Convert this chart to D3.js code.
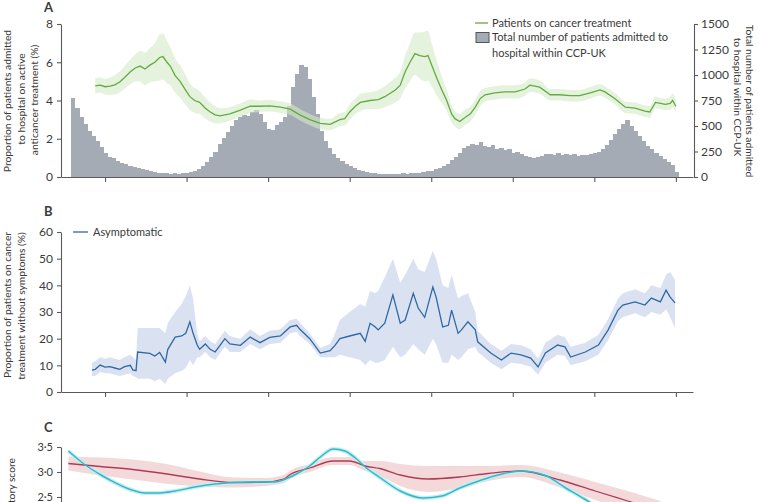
<!DOCTYPE html>
<html><head><meta charset="utf-8">
<script src="https://cdn.jsdelivr.net/npm/d3@7"></script>
<style>body{margin:0;background:#fff} svg{display:block} text{font-family:Lato,"Open Sans",sans-serif;fill:#3a3a3a}</style>
</head><body><svg id="c" width="758" height="502"></svg>
<script>
// ---------- DATA (x in days) ----------
const xTicks = [54,154,254,354,454,554,654,754];
const barStart = 12, barStep = 5;
const admissions = [770,680,590,520,450,400,350,290,240,200,
185,160,140,125,110,95,85,75,68,58,
50,42,38,35,32,36,30,38,40,48,
60,80,110,150,200,250,320,380,440,500,
560,590,610,600,640,660,620,540,470,460,
510,540,590,700,880,1010,1100,1080,960,780,
620,450,350,280,230,190,155,130,105,85,
70,58,48,42,38,32,30,28,25,30,
28,35,32,38,42,40,48,55,60,75,
90,110,130,170,200,240,280,300,320,310,
340,300,290,310,270,280,260,270,240,250,
230,210,200,190,200,210,225,230,220,235,
220,230,215,225,210,220,215,230,240,250,
270,310,360,420,470,520,560,500,450,400,
350,300,270,240,210,180,150,120,50];

const greenDay = [42,48,54,60,66,72,78,85,91,97,103,109,115,121,125,130,134,140,146,152,158,164,170,177,183,189,195,207,220,232,244,256,269,281,293,305,318,330,342,348,354,361,367,379,389,397,410,416,422,428,434,440,446,450,455,461,467,473,479,483,489,495,502,508,514,520,532,544,557,569,575,587,600,612,624,636,649,661,667,679,692,704,716,722,729,735,741,747,750,754];
const greenPct = [4.76,4.8,4.72,4.75,4.82,4.97,5.2,5.5,5.7,5.8,5.65,5.85,6.0,6.25,6.3,6.0,5.8,5.3,5.0,4.6,4.2,4.0,3.9,3.6,3.4,3.25,3.2,3.3,3.5,3.7,3.7,3.72,3.65,3.55,3.25,3.0,2.8,2.75,3.0,3.05,3.4,3.7,3.9,4.0,4.05,4.2,4.55,4.8,5.5,6.0,6.45,6.35,6.3,6.35,5.8,5.15,4.55,4.0,3.3,3.05,2.9,3.1,3.3,3.65,4.1,4.3,4.4,4.45,4.45,4.6,4.8,4.7,4.3,4.3,4.25,4.25,4.4,4.55,4.45,4.1,3.65,3.6,3.45,3.4,3.9,3.85,3.8,3.85,4.0,3.7];
const greenHalf = [0.4,0.4,0.4,0.45,0.5,0.55,0.6,0.65,0.7,0.8,0.85,0.9,1.0,1.2,1.2,1.1,1.0,0.9,0.85,0.8,0.7,0.65,0.6,0.55,0.5,0.45,0.4,0.35,0.35,0.35,0.3,0.3,0.3,0.3,0.3,0.3,0.3,0.3,0.35,0.35,0.4,0.4,0.45,0.45,0.5,0.55,0.65,0.7,0.85,1.0,1.1,1.2,1.3,1.3,1.1,0.9,0.7,0.55,0.45,0.4,0.4,0.4,0.4,0.4,0.4,0.35,0.35,0.35,0.35,0.35,0.35,0.35,0.3,0.3,0.3,0.3,0.3,0.3,0.3,0.3,0.3,0.3,0.3,0.3,0.3,0.3,0.3,0.35,0.35,0.35];

const blueDay = [38,42,48,54,60,66,72,78,85,88,92,94,109,115,121,128,131,140,148,153,158,162,167,170,177,183,189,195,201,207,220,232,244,256,269,281,289,293,305,318,330,336,342,354,367,373,379,385,389,397,407,416,422,432,438,446,456,460,468,475,479,487,491,499,508,511,527,540,552,564,576,585,594,609,618,625,643,659,671,683,689,704,716,724,735,742,747,753];
const blueVal = [8.2,8.5,10.1,9.3,9.5,9.0,8.5,9.5,10.0,8.3,8.0,15.0,14.5,13.5,14.8,11.2,16,20.6,21,22,26.3,22,17.6,16,18,16,15,17.5,20,18,17.5,20.6,18.5,20.5,21,24.4,25,23.5,20,14.6,15.5,17.5,20,21,22,19,25.8,24.5,23.3,25.8,36.4,25.8,27,37,31.5,28,39.4,35.6,24.4,25,30.7,22,23.3,26.3,23.3,18.8,14.6,12,14.6,13.9,12.7,9.4,14.6,17.6,16.9,13.1,15,17.6,23.3,30.7,32.6,33.8,32.6,35.2,33.8,38.2,35.6,33.4];
const blueLo = [6,6,7.5,7,7,6.5,6,6.5,7,6,5.5,5,5,4,5,3,5,7,8,9,12,10,13,13,15,13,12,14.5,17,15,15,18,16,18,18.5,22,22.5,21,18,13,13,13,14,13,12,10,12,11,11,12,17,13,14,18,16,14,20,18,11,11,14,12,13,16,17,15,11,8.5,11,10.5,9.5,6.5,11,14,13.5,10,11.5,14,19.5,26.5,28,29.5,28,30,29,31,28,24];
const blueHi = [11,11.5,13,12.5,13,12.5,12,13,14,13,12,24,24,24,24,22,26,30,33,36,40,35,22,19,21,19,18,20.5,23,21,20,23.5,21,23,23.5,27,27.5,26,22,16.5,18,22,27,30,33,32,38,37,38,43,50,41,44,50,46,45,53,50,40,39,44,35,36,37,30,23,18,15.5,18,17.5,16,12.5,18.5,21.5,20.5,17,18.5,21.5,27.5,35,37,38.5,37,40,39,44,45,42];

const cyanDay = [9,29,48,60,85,103,121,140,164,189,232,262,281,293,305,318,334,348,361,373,391,416,444,467,489,514,538,564,594,618,642,667,692];
const cyanVal = [3.42,3.15,2.95,2.84,2.65,2.58,2.58,2.62,2.70,2.76,2.80,2.80,2.90,3.00,3.12,3.30,3.46,3.42,3.28,3.10,2.89,2.62,2.48,2.52,2.68,2.83,2.95,3.02,2.93,2.69,2.46,2.2,1.95];
const redDay = [9,48,88,126,170,211,250,273,281,305,334,354,373,391,416,450,489,524,564,612,655,695,735];
const redVal = [3.17,3.11,3.05,2.97,2.86,2.79,2.80,2.86,2.95,3.08,3.22,3.22,3.12,3.07,2.94,2.86,2.9,2.97,3.02,2.84,2.62,2.42,2.22];
const redHalf = [0.14,0.18,0.2,0.2,0.15,0.1,0.08,0.08,0.08,0.08,0.08,0.08,0.1,0.15,0.22,0.26,0.22,0.15,0.12,0.15,0.18,0.2,0.2];

const leftTicksA = [0,2,4,6,8];
const rightTicksA = [0,250,500,750,1000,1250,1500];
const ticksB = [0,10,20,30,40,50,60];
const ticksC = [2.5,3.0,3.5];

// ---------- DRAW ----------
const svg = d3.select("#c");
const AX = "#5a5a5a";
const x = d3.scaleLinear().domain([0,775]).range([61,693]);

function styleAxis(g, fs){
  g.selectAll("path").attr("stroke",AX).attr("stroke-width",1.1);
  g.selectAll("line").attr("stroke",AX).attr("stroke-width",1.1);
  g.selectAll("text").attr("font-size",fs||12).attr("fill","#3a3a3a").attr("font-family","Lato, 'Open Sans', sans-serif");
}
function xAxisAt(y){
  svg.append("g").attr("transform",`translate(0,${y})`)
    .call(d3.axisBottom(x).tickValues(xTicks).tickSize(5).tickSizeOuter(0).tickFormat(""))
    .call(styleAxis);
}
function vText(str,cx,cy,rot,size){
  svg.append("text").attr("transform",`translate(${cx},${cy}) rotate(${rot})`)
    .attr("text-anchor","middle").attr("dy","0.35em").attr("font-size",size||10.3).text(str);
}

// ===== Panel A =====
const yA = d3.scaleLinear().domain([0,8]).range([177,24]);
const yA2 = d3.scaleLinear().domain([0,1500]).range([177,24]);
const bw = x(barStep)-x(0);
svg.append("g").attr("shape-rendering","crispEdges").selectAll("rect").data(admissions).join("rect")
  .attr("x",(d,i)=>x(barStart+i*barStep))
  .attr("width",bw+0.6)
  .attr("y",d=>yA2(d)).attr("height",d=>yA2(0)-yA2(d))
  .attr("fill","#a5abb5");
const gData = greenDay.map((d,i)=>({d,v:greenPct[i],h:greenHalf[i]}));
svg.append("path").datum(gData)
  .attr("d",d3.area().x(p=>x(p.d)).y0(p=>yA(p.v-p.h)).y1(p=>yA(p.v+p.h)).curve(d3.curveMonotoneX))
  .attr("fill","#d3eac6").attr("opacity",0.6);
svg.append("path").datum(gData)
  .attr("d",d3.line().x(p=>x(p.d)).y(p=>yA(p.v)))
  .attr("fill","none").attr("stroke","#62ab41").attr("stroke-width",1.3);

svg.append("g").attr("transform","translate(61,0)")
  .call(d3.axisLeft(yA).tickValues(leftTicksA).tickSize(4).tickPadding(4).tickSizeOuter(0)).call(styleAxis);
svg.append("g").attr("transform","translate(694,0)")
  .call(d3.axisRight(yA2).tickValues(rightTicksA).tickSize(4).tickPadding(3).tickSizeOuter(0).tickFormat(d3.format("d"))).call(styleAxis);
xAxisAt(177);

svg.append("text").attr("x",44).attr("y",12).attr("font-size",13).attr("font-weight","bold").text("A");
vText("Proportion of patients admitted",7,101,-90);
vText("to hospital on active",21,99,-90);
vText("anticancer treatment (%)",34,100,-90);
vText("Total number of patients admitted",750,101,90);
vText("to hospital within CCP-UK",738,97,90);

// legend A
svg.append("line").attr("x1",475).attr("x2",488).attr("y1",23).attr("y2",23).attr("stroke","#62ab41").attr("stroke-width",1.3);
svg.append("text").attr("x",492).attr("y",23).attr("dy","0.35em").attr("font-size",11).text("Patients on cancer treatment");
svg.append("rect").attr("x",476).attr("y",32.5).attr("width",13).attr("height",10).attr("fill","#a5abb5").attr("stroke","#555").attr("stroke-width",1);
svg.append("text").attr("x",492).attr("y",37.5).attr("dy","0.35em").attr("font-size",11).text("Total number of patients admitted to");
svg.append("text").attr("x",492).attr("y",53).attr("dy","0.35em").attr("font-size",11).text("hospital within CCP-UK");

// ===== Panel B =====
const yB = d3.scaleLinear().domain([0,60]).range([392,232]);
const bData = blueDay.map((d,i)=>({d,v:blueVal[i],lo:blueLo[i],hi:blueHi[i]}));
svg.append("path").datum(bData)
  .attr("d",d3.area().x(p=>x(p.d)).y0(p=>yB(p.lo)).y1(p=>yB(p.hi)))
  .attr("fill","#d3ddf0").attr("opacity",0.85);
svg.append("path").datum(bData)
  .attr("d",d3.line().x(p=>x(p.d)).y(p=>yB(p.v)))
  .attr("fill","none").attr("stroke","#2f68a3").attr("stroke-width",1.3);
svg.append("g").attr("transform","translate(61,0)")
  .call(d3.axisLeft(yB).tickValues(ticksB).tickSize(4).tickPadding(4).tickSizeOuter(0)).call(styleAxis);
xAxisAt(392);
svg.append("text").attr("x",44).attr("y",216).attr("font-size",13).attr("font-weight","bold").text("B");
vText("Proportion of patients on cancer",7,305,-90);
vText("treatment without symptoms (%)",21,306,-90);
svg.append("line").attr("x1",73).attr("x2",88).attr("y1",232).attr("y2",232).attr("stroke","#2f68a3").attr("stroke-width",1.3);
svg.append("text").attr("x",93).attr("y",232).attr("dy","0.35em").attr("font-size",11).text("Asymptomatic");

// ===== Panel C =====
const yC = d3.scaleLinear().domain([2.0,3.5]).range([522,447]);
const rData = redDay.map((d,i)=>({d,v:redVal[i],h:redHalf[i]}));
const cData = cyanDay.map((d,i)=>({d,v:cyanVal[i]}));
svg.append("path").datum(rData)
  .attr("d",d3.area().x(p=>x(p.d)).y0(p=>yC(p.v-p.h)).y1(p=>yC(p.v+p.h)).curve(d3.curveMonotoneX))
  .attr("fill","#f1cfd2").attr("opacity",0.8);
const cLine = d3.line().x(p=>x(p.d)).y(p=>yC(p.v)).curve(d3.curveMonotoneX);
svg.append("path").datum(cData).attr("d",cLine).attr("fill","none").attr("stroke","#bff0f3").attr("stroke-width",4);
svg.append("path").datum(rData)
  .attr("d",d3.line().x(p=>x(p.d)).y(p=>yC(p.v)).curve(d3.curveMonotoneX))
  .attr("fill","none").attr("stroke","#b03b55").attr("stroke-width",1.3);
svg.append("path").datum(cData).attr("d",cLine).attr("fill","none").attr("stroke","#3cb6c6").attr("stroke-width",1.5);
svg.append("g").attr("transform","translate(61,0)")
  .call(d3.axisLeft(yC).tickValues(ticksC).tickSize(4).tickPadding(4).tickSizeOuter(0)
    .tickFormat(d=>d.toFixed(1).replace(".","·"))).call(g=>styleAxis(g,11));
svg.append("text").attr("x",44).attr("y",432).attr("font-size",13).attr("font-weight","bold").text("C");
svg.append("text").attr("transform","translate(11,458) rotate(-90)").attr("text-anchor","end").attr("dy","0.35em").attr("font-size",10.3).text("Respiratory score");
</script></body></html>
